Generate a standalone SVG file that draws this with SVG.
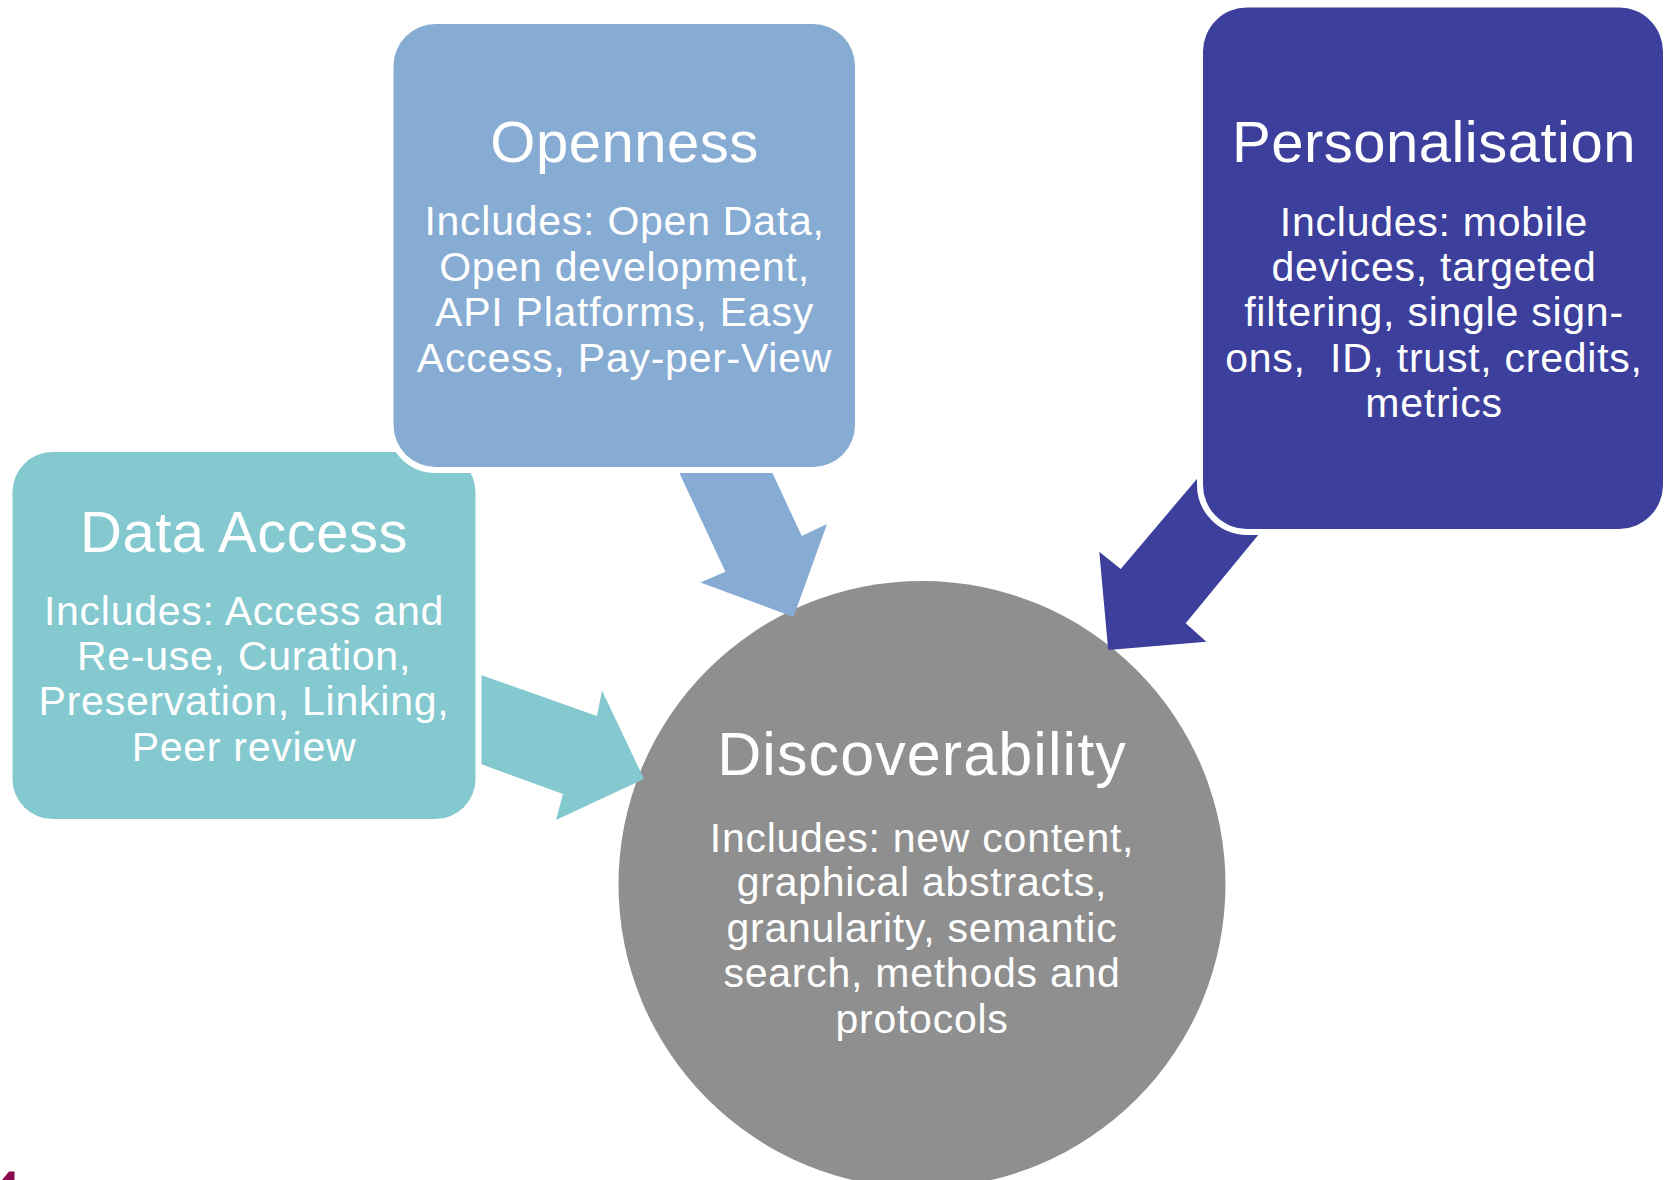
<svg xmlns="http://www.w3.org/2000/svg" width="1664" height="1180" viewBox="0 0 1664 1180">
  <style>
    text { font-family: "Liberation Sans", Arial, sans-serif; fill: #ffffff; text-anchor: middle; }
    .title { font-size: 58px; letter-spacing: 0.5px; }
    .title-big { font-size: 61px; letter-spacing: 1.1px; }
    .body { font-size: 41px; letter-spacing: 0.75px; }
    .box { stroke: #ffffff; stroke-width: 12; paint-order: stroke; }
  </style>
  <rect x="0" y="0" width="1664" height="1180" fill="#ffffff"/>

  <g id="node-discoverability">
    <circle cx="922" cy="884.5" r="303.5" fill="#8f8f8f"/>
    <text class="title-big" x="922" y="775">Discoverability</text>
    <text class="body" x="922" y="851.5">Includes: new content,</text>
    <text class="body" x="922" y="896">graphical abstracts,</text>
    <text class="body" x="922" y="941.5">granularity, semantic</text>
    <text class="body" x="922" y="987">search, methods and</text>
    <text class="body" x="922" y="1033">protocols</text>
  </g>

  <g id="connectors">
    <polygon id="arrow-data-access" fill="#84c9cf" points="460,667.4 597,716 602,690.5 644,779 556,820 563,794 460,756.4"/>
    <polygon id="arrow-openness" fill="#87acd4" points="671,455 764,455 801.8,536 827,524 793.5,617 700.4,582.5 725.4,571.7"/>
    <polygon id="arrow-personalisation" fill="#3c3f9b" points="1229.9,440 1120.7,569 1099.3,551.7 1108.2,650 1206.4,641.7 1185.7,623.3 1295.3,490"/>
  </g>

  <g id="node-data-access">
    <rect class="box" x="12.5" y="452" width="463" height="367" rx="40" ry="40" fill="#84c9cf"/>
    <text class="title" x="244" y="552">Data Access</text>
    <text class="body" x="244" y="625">Includes: Access and</text>
    <text class="body" x="244" y="670">Re-use, Curation,</text>
    <text class="body" x="244" y="715">Preservation, Linking,</text>
    <text class="body" x="244" y="760.5">Peer review</text>
  </g>

  <g id="node-openness">
    <rect class="box" x="393.5" y="24" width="461.5" height="443" rx="42" ry="42" fill="#87acd4"/>
    <text class="title" x="624.5" y="162">Openness</text>
    <text class="body" x="624.5" y="235">Includes: Open Data,</text>
    <text class="body" x="624.5" y="280.5">Open development,</text>
    <text class="body" x="624.5" y="326">API Platforms, Easy</text>
    <text class="body" x="624.5" y="371.5">Access, Pay-per-View</text>
  </g>

  <g id="node-personalisation">
    <rect class="box" x="1203" y="7.5" width="460" height="521.5" rx="44" ry="44" fill="#3c3f9b"/>
    <text class="title" x="1434" y="162">Personalisation</text>
    <text class="body" x="1434" y="235.5">Includes: mobile</text>
    <text class="body" x="1434" y="280.5">devices, targeted</text>
    <text class="body" x="1434" y="326">filtering, single sign-</text>
    <text class="body" x="1434" y="371.5" xml:space="preserve">ons,  ID, trust, credits,</text>
    <text class="body" x="1434" y="417">metrics</text>
  </g>

  <polygon id="corner-mark" fill="#8b0a50" points="2,1180 9,1171.5 14.5,1171.5 14.5,1180"/>
</svg>
